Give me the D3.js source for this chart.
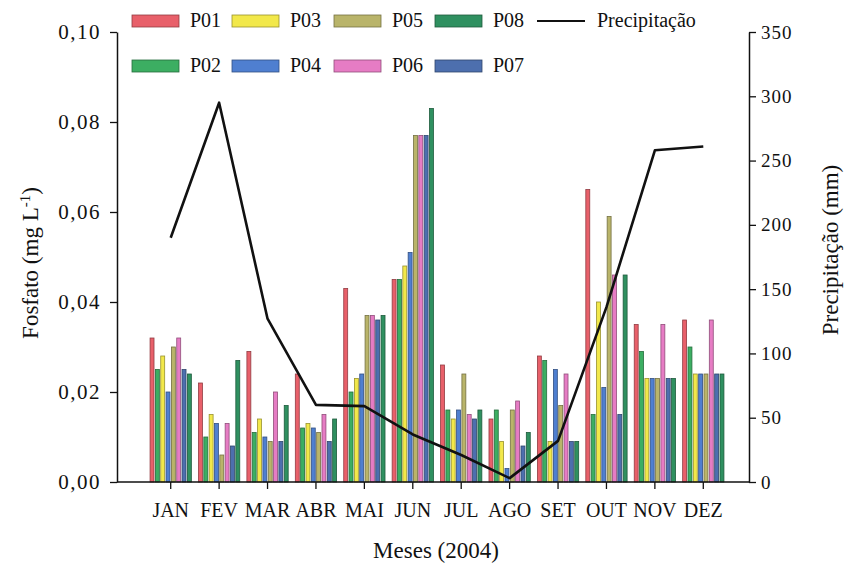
<!DOCTYPE html>
<html>
<head>
<meta charset="utf-8">
<script src="https://cdn.jsdelivr.net/npm/d3@7"></script>
<style>
  body { margin: 0; background: #fff; }
  svg text { font-family: "Liberation Serif", "DejaVu Serif", "Times New Roman", serif !important; fill: #111; }
</style>
</head>
<body>
<div id="chart"></div>
<script>
const months = ["JAN", "FEV", "MAR", "ABR", "MAI", "JUN", "JUL", "AGO", "SET", "OUT", "NOV", "DEZ"];
const series = ["P01", "P02", "P03", "P04", "P05", "P06", "P07", "P08"];
const P01 = [0.032, 0.022, 0.029, 0.024, 0.043, 0.045, 0.026, 0.014, 0.028, 0.065, 0.035, 0.036];
const P02 = [0.025, 0.010, 0.011, 0.012, 0.020, 0.045, 0.016, 0.016, 0.027, 0.015, 0.029, 0.030];
const P03 = [0.028, 0.015, 0.014, 0.013, 0.023, 0.048, 0.014, 0.009, 0.009, 0.040, 0.023, 0.024];
const P04 = [0.020, 0.013, 0.010, 0.012, 0.024, 0.051, 0.016, 0.003, 0.025, 0.021, 0.023, 0.024];
const P05 = [0.030, 0.006, 0.009, 0.011, 0.037, 0.077, 0.024, 0.016, 0.017, 0.059, 0.023, 0.024];
const P06 = [0.032, 0.013, 0.020, 0.015, 0.037, 0.077, 0.015, 0.018, 0.024, 0.046, 0.035, 0.036];
const P07 = [0.025, 0.008, 0.009, 0.009, 0.036, 0.077, 0.014, 0.008, 0.009, 0.015, 0.023, 0.024];
const P08 = [0.024, 0.027, 0.017, 0.014, 0.037, 0.083, 0.016, 0.011, 0.009, 0.046, 0.023, 0.024];
const precip = [190, 295, 127, 60, 59, 37, 21, 3, 32, 136, 258, 261];
const leftTicks = [0, 0.02, 0.04, 0.06, 0.08, 0.10];
const rightTicks = [0, 50, 100, 150, 200, 250, 300, 350];

const values = { P01, P02, P03, P04, P05, P06, P07, P08 };
const colors = {
  P01: "#e8606a", P02: "#3cae62", P03: "#f2e84a", P04: "#4f7fd0",
  P05: "#b9b46a", P06: "#e67cc4", P07: "#4d6fae", P08: "#2f9060"
};
const serif = "'Liberation Serif', 'DejaVu Serif', serif";

const W = 847, H = 563;
const plot = { left: 117, right: 749, top: 32, bottom: 482 };

const svg = d3.select("#chart").append("svg")
  .attr("width", W)
  .attr("height", H)
  .attr("font-family", serif);

const x = d3.scaleBand()
  .domain(months)
  .range([146.5, 727.5])
  .paddingInner(0.09)
  .paddingOuter(0.045);

const xs = d3.scaleBand()
  .domain(series)
  .range([0, x.bandwidth()])
  .padding(0.26);

const y = d3.scaleLinear().domain([0, 0.10]).range([plot.bottom, plot.top]);
const y2 = d3.scaleLinear().domain([0, 350]).range([plot.bottom, plot.top]);

// bars
const groups = svg.append("g").selectAll("g")
  .data(months)
  .join("g")
  .attr("transform", d => `translate(${x(d)},0)`);

groups.selectAll("rect")
  .data((m, i) => series.map(s => ({ s, v: values[s][i] })))
  .join("rect")
  .attr("x", d => xs(d.s))
  .attr("y", d => y(d.v))
  .attr("width", xs.bandwidth())
  .attr("height", d => y(0) - y(d.v))
  .attr("fill", d => colors[d.s])
  .attr("stroke", d => d3.color(colors[d.s]).darker(1.3))
  .attr("stroke-width", 0.8);

// precipitation line
svg.append("path")
  .datum(precip)
  .attr("fill", "none")
  .attr("stroke", "#111")
  .attr("stroke-width", 2.6)
  .attr("stroke-linejoin", "round")
  .attr("d", d3.line()
    .x((d, i) => x(months[i]) + x.bandwidth() / 2)
    .y(d => y2(d)));

// axes
const axisColor = "#111";
svg.append("line")
  .attr("x1", plot.left).attr("x2", plot.right)
  .attr("y1", plot.bottom).attr("y2", plot.bottom)
  .attr("stroke", axisColor).attr("stroke-width", 1.5);

const yAxis = svg.append("g")
  .attr("transform", `translate(${plot.left},0)`)
  .call(d3.axisLeft(y).tickValues(leftTicks).tickSize(7).tickSizeOuter(0)
    .tickFormat(d => d3.format(".2f")(d).replace(".", ",")));
yAxis.selectAll("text").style("font-size", "21px").attr("x", -16).attr("letter-spacing", "1.5px");

const y2Axis = svg.append("g")
  .attr("transform", `translate(${plot.right},0)`)
  .call(d3.axisRight(y2).tickValues(rightTicks).tickSize(7).tickSizeOuter(0));
y2Axis.selectAll("text").style("font-size", "19px").attr("x", 12).attr("letter-spacing", "1px");

const xAxis = svg.append("g")
  .attr("transform", `translate(0,${plot.bottom})`)
  .call(d3.axisBottom(x).tickSize(7).tickSizeOuter(0));
xAxis.select(".domain").remove();
xAxis.selectAll("text").style("font-size", "20px").attr("y", 21);

[yAxis, y2Axis, xAxis].forEach(g => {
  g.attr("font-family", serif);
  g.selectAll("line").attr("stroke", axisColor).attr("stroke-width", 1.3);
  g.selectAll(".domain").attr("stroke", axisColor).attr("stroke-width", 1.5);
  g.selectAll("text").style("font-family", serif).attr("fill", "#111");
});

// titles
svg.append("text")
  .attr("x", 436).attr("y", 558)
  .attr("text-anchor", "middle")
  .style("font-size", "23px")
  .text("Meses (2004)");

const lt = svg.append("text")
  .attr("transform", "translate(38,263) rotate(-90)")
  .attr("text-anchor", "middle")
  .style("font-size", "23px");
lt.append("tspan").text("Fosfato (mg L");
lt.append("tspan").attr("dy", -8).style("font-size", "15px").text("-1");
lt.append("tspan").attr("dy", 8).text(")");

svg.append("text")
  .attr("transform", "translate(838,250) rotate(-90)")
  .attr("text-anchor", "middle")
  .style("font-size", "23px")
  .text("Precipitação (mm)");

// legend
const legendRows = [
  { y: 21, items: ["P01", "P03", "P05", "P08"] },
  { y: 66, items: ["P02", "P04", "P06", "P07"] }
];
const legendX = [132, 232, 334, 435];
legendRows.forEach(row => {
  row.items.forEach((s, i) => {
    svg.append("rect")
      .attr("x", legendX[i]).attr("y", row.y - 6)
      .attr("width", 47).attr("height", 12)
      .attr("fill", colors[s])
      .attr("stroke", d3.color(colors[s]).darker(1.3))
      .attr("stroke-width", 0.8);
    svg.append("text")
      .attr("x", legendX[i] + 58).attr("y", row.y + 6)
      .style("font-size", "20px")
      .text(s);
  });
});
svg.append("line")
  .attr("x1", 537).attr("x2", 585)
  .attr("y1", 21).attr("y2", 21)
  .attr("stroke", "#111").attr("stroke-width", 2.2);
svg.append("text")
  .attr("x", 597).attr("y", 27)
  .style("font-size", "20px")
  .text("Precipitação");
</script>
</body>
</html>
